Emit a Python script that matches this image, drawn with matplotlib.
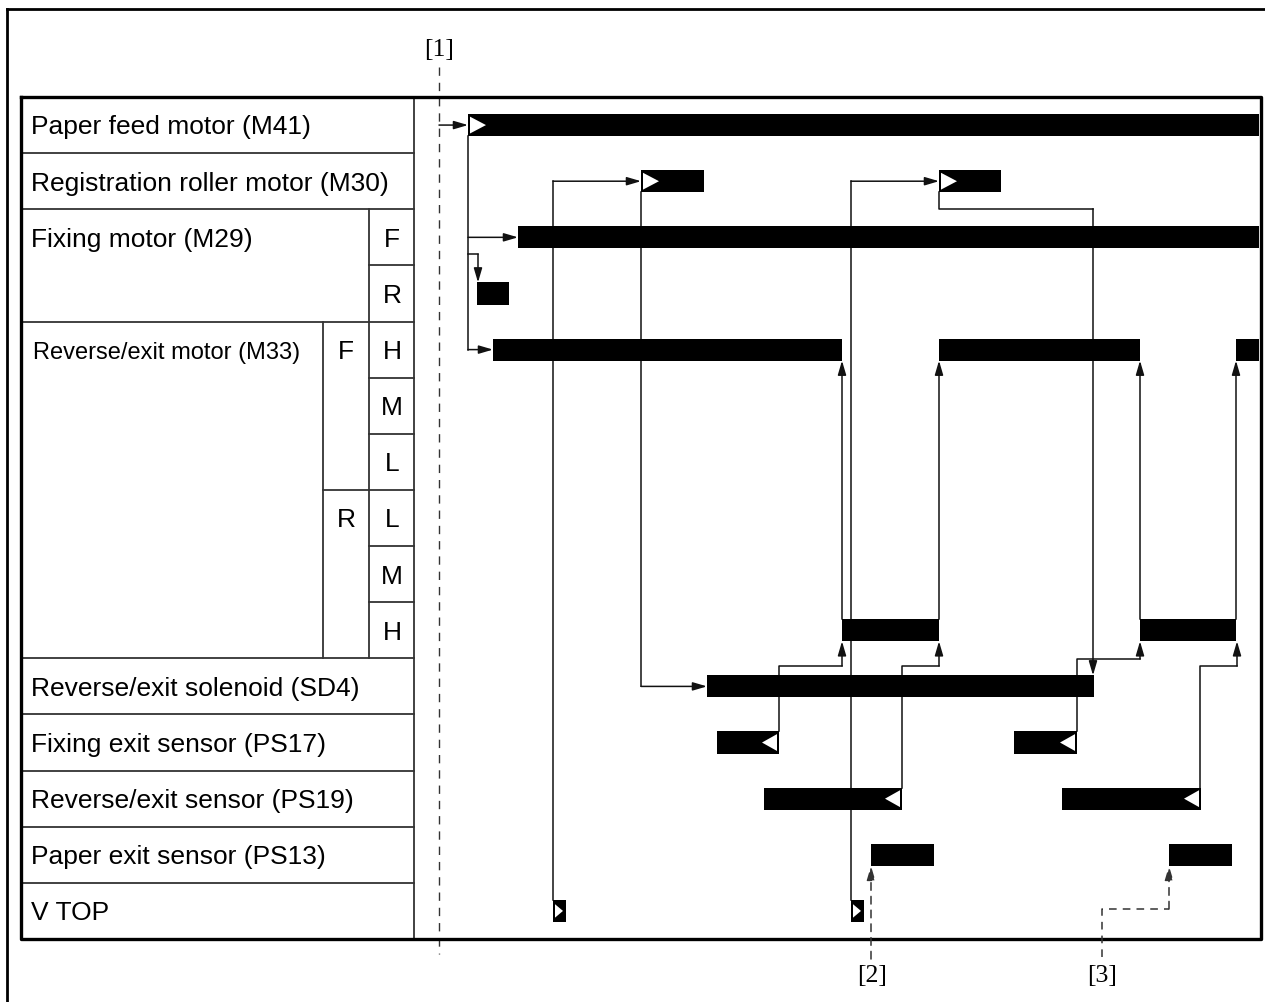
import matplotlib
matplotlib.use('Agg')
import matplotlib.pyplot as plt
from matplotlib.patches import Polygon

plt.rcParams['font.family'] = ['Liberation Sans', 'DejaVu Sans']

# ---------------------------------------------- data (time in px after [1], row index)
row_labels = ['Paper feed motor (M41)', 'Registration roller motor (M30)',
              'Fixing motor (M29)', '', 'Reverse/exit motor (M33)', '', '', '', '', '',
              'Reverse/exit solenoid (SD4)', 'Fixing exit sensor (PS17)',
              'Reverse/exit sensor (PS19)', 'Paper exit sensor (PS13)', 'V TOP']
dir_labels = ['', '', 'F', 'R', 'H', 'M', 'L', 'L', 'M', 'H', '', '', '', '', '']
fr_labels = {4: 'F', 7: 'R'}

bars_feed = [(29, 820)]
bars_reg = [(202, 265), (500, 562)]
bars_fix_f = [(79, 820)]
bars_fix_r = [(38, 70)]
bars_rev_fh = [(54, 403), (500, 701), (797, 820)]
bars_rev_rh = [(403, 500), (701, 797)]
bars_sol = [(268, 655)]
bars_ps17 = [(278, 340), (575, 638)]
bars_ps19 = [(325, 463), (623, 762)]
bars_ps13 = [(432, 495), (730, 793)]
bars_vtop = [(114, 127), (412, 425)]

bar_rows = [(0, bars_feed), (1, bars_reg), (2, bars_fix_f), (3, bars_fix_r),
            (4, bars_rev_fh), (9, bars_rev_rh), (10, bars_sol), (11, bars_ps17),
            (12, bars_ps19), (13, bars_ps13), (14, bars_vtop)]

hb = 0.197  # half bar height (rows)

# connectors: polylines, arrow on last segment
links = [
    [(0, 0), (29, 0)],
    [(29, hb), (29, 4), (54, 4)],
    [(29, 2), (79, 2)],
    [(29, 2.3), (39, 2.3), (39, 3 - hb)],
    [(114, 14 - hb), (114, 1), (202, 1)],
    [(202, 1 + hb), (202, 10), (268, 10)],
    [(412, 14 - hb), (412, 1), (500, 1)],
    [(500, 1 + hb), (500, 1.49), (654, 1.49), (654, 10 - hb)],
    [(340, 11 - hb), (340, 9.637), (403, 9.637), (403, 9 + hb)],
    [(403, 9 - hb), (403, 4 + hb)],
    [(463, 12 - hb), (463, 9.637), (500, 9.637), (500, 9 + hb)],
    [(500, 9 - hb), (500, 4 + hb)],
    [(638, 11 - hb), (638, 9.512), (701, 9.512), (701, 9 + hb)],
    [(701, 9 - hb), (701, 4 + hb)],
    [(761, 12 - hb), (761, 9.637), (798, 9.637), (798, 9 + hb)],
    [(797, 9 - hb), (797, 4 + hb)],
]
dashed_links = [
    [(432, 14.857), (432, 13 + hb)],
    [(663, 14.82), (663, 13.966), (730, 13.966), (730, 13 + hb)],
]
callouts = [('[1]', 0, -1.355), ('[2]', 433, 15.14), ('[3]', 663, 15.14)]

# ---------------------------------------------- figure
RH = 842 / 15.0
fig = plt.figure(figsize=(12.65, 10.03), dpi=100)
ax = fig.add_axes([0, 0, 1, 1])
ax.set_xlim(-439, 826)
ax.set_ylim(14.5 + 63 / RH, -0.5 - 98 / RH)
ax.axis('off')

# outer frame (runs off the page on right / bottom)
ax.plot([-432, -432], [16, -2.068], color='black', lw=2)
ax.plot([-432, 830], [-2.068, -2.068], color='black', lw=2)

# table
L, C1, C2, C3, R = -418, -116, -70, -25, 822
lc = '#333333'
for y in [0.5, 1.5, 9.5, 10.5, 11.5, 12.5, 13.5]:
    ax.plot([L, C3], [y, y], color=lc, lw=1.3)
ax.plot([L, C3], [3.5, 3.5], color=lc, lw=1.3)
for y in [2.5, 4.5, 5.5, 7.5, 8.5]:
    ax.plot([C2, C3], [y, y], color=lc, lw=1.3)
ax.plot([C1, C3], [6.5, 6.5], color=lc, lw=1.3)
ax.plot([C2, C2], [1.5, 9.5], color=lc, lw=1.3)
ax.plot([C1, C1], [3.5, 9.5], color=lc, lw=1.3)
ax.plot([C3, C3], [-0.5, 14.5], color=lc, lw=1.3)
ax.plot([L, R, R, L, L], [-0.5, -0.5, 14.5, 14.5, -0.5], color='black', lw=2.4)

for i, lab in enumerate(row_labels):
    if lab:
        fs = 17 if i == 4 else 19
        ax.text(-408 if i != 4 else -406, i + 0.15, lab, fontsize=fs, va='baseline', ha='left')
for i, lab in enumerate(dir_labels):
    if lab:
        ax.text(-47, i + 0.15, lab, fontsize=19, va='baseline', ha='center')
for i, lab in fr_labels.items():
    ax.text(-93, i + 0.15, lab, fontsize=19, va='baseline', ha='center')

# bars
for row, segs in bar_rows:
    ax.broken_barh([(s, e - s) for s, e in segs], (row - hb, 2 * hb),
                   facecolors='black', edgecolor='none', zorder=3)


def tri(x, row, w, h, right=True):
    if right:
        pts = [(x, row - h), (x, row + h), (x + w, row)]
    else:
        pts = [(x, row - h), (x, row + h), (x - w, row)]
    ax.add_patch(Polygon(pts, closed=True, facecolor='white', edgecolor='none', zorder=4))


for s, e in bars_feed:
    tri(s + 2, 0, 16, 0.15)
for s, e in bars_reg:
    tri(s + 2, 1, 16, 0.15)
for s, e in bars_vtop:
    tri(s + 2, 14, 8, 0.12)
for s, e in bars_ps17:
    tri(e - 2, 11, 15, 0.15, right=False)
for s, e in bars_ps19:
    tri(e - 2, 12, 15, 0.15, right=False)

ap = dict(arrowstyle='-|>,head_length=0.85,head_width=0.25', color='#111111',
          lw=1.1, shrinkA=0, shrinkB=0)


def draw_link(pts, ls='-'):
    xs = [p[0] for p in pts]
    ys = [p[1] for p in pts]
    col = '#111111' if ls == '-' else '#333333'
    ax.plot(xs[:-1], ys[:-1], color=col, lw=1.1, ls=ls, zorder=2,
            dashes=(5, 4) if ls == '--' else (None, None))
    arr = dict(ap)
    if ls == '--':
        arr['linestyle'] = (0, (5, 4))
        arr['color'] = col
    ax.annotate('', xy=pts[-1], xytext=pts[-2], arrowprops=arr, zorder=2)


for pts in links:
    draw_link(pts)
for pts in dashed_links:
    draw_link(pts, ls='--')

# [1] line
ax.plot([0, 0], [-1.034, 14.768], color='#333333', lw=1.0, dashes=(6, 5), zorder=1)
for txt, x, y in callouts:
    ax.text(x, y, txt, fontsize=18.5, family=['Liberation Serif', 'DejaVu Serif'],
            ha='center', va='center')

fig.savefig('out.png', dpi=100, facecolor='white')
